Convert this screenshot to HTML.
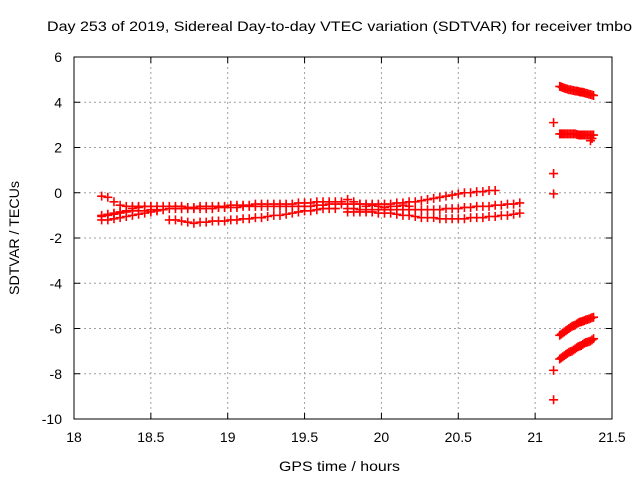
<!DOCTYPE html>
<html><head><meta charset="utf-8"><style>
body{margin:0;background:#fff}
svg text{font-family:"Liberation Sans",sans-serif;font-size:14px;fill:#000}
</style></head><body>
<svg id="c" width="640" height="480">
<text x="47" y="31" textLength="585" lengthAdjust="spacingAndGlyphs">Day 253 of 2019, Sidereal Day-to-day VTEC variation (SDTVAR) for receiver tmbo</text>
<text x="279" y="471" textLength="121" lengthAdjust="spacingAndGlyphs">GPS time / hours</text>
<text transform="translate(19,238) rotate(-90)" text-anchor="middle" textLength="114" lengthAdjust="spacingAndGlyphs">SDTVAR / TECUs</text>
<g id="grid"></g><g id="ticks"></g><g id="marks"></g>
<rect x="74" y="57" width="538" height="362" fill="none" stroke="#000" stroke-width="1"/>
</svg>
<script>
const xTicks=[18,18.5,19,19.5,20,20.5,21,21.5];
const xTickLabels=["18","18.5","19","19.5","20","20.5","21","21.5"];
const yTicks=[6,4,2,0,-2,-4,-6,-8,-10];
const yTickLabels=["6","4","2","0","-2","-4","-6","-8","-10"];
const A1=[-0.15,-0.2,-0.4,-0.55,-0.6,-0.6,-0.6,-0.6,-0.6,-0.6,-0.6,-0.6,-0.6,-0.6,-0.65,-0.65,-0.6,-0.6,-0.6,-0.6,-0.6,-0.55,-0.55,-0.55,-0.55,-0.5,-0.5,-0.5,-0.5,-0.5,-0.5,-0.5,-0.45,-0.45,-0.45,-0.4,-0.4,-0.4,-0.4,-0.4];
const B1=[-1.0,-0.95,-0.9,-0.85,-0.85,-0.8,-0.8,-0.8,-0.75,-0.75,-0.75,-0.7,-0.7,-0.7,-0.7,-0.7,-0.7,-0.7,-0.7,-0.65,-0.65,-0.65,-0.65,-0.6,-0.6,-0.6,-0.6,-0.6,-0.6,-0.6,-0.6,-0.6,-0.6,-0.6,-0.6,-0.55,-0.55,-0.5,-0.5,-0.5];
const C1=[-1.2,-1.2,-1.15,-1.1,-1.05,-1.0,-0.95,-0.9,-0.85,-0.8];
const D1=[-1.05,-1.0,-0.95,-0.9,-0.8,-0.7,-0.65,-0.6,-0.6];
const E1=[-1.2,-1.2,-1.25,-1.3,-1.35,-1.3,-1.3,-1.25,-1.25,-1.25,-1.2,-1.2,-1.15,-1.15,-1.1,-1.1,-1.05,-1.0,-1.0,-0.95,-0.9,-0.85,-0.8,-0.8,-0.75,-0.7,-0.7,-0.7];
const A2=[-0.5,-0.5,-0.5,-0.5,-0.5,-0.5,-0.5,-0.5,-0.45,-0.45,-0.4,-0.4,-0.35,-0.3,-0.25,-0.2,-0.15,-0.1,-0.05,0,0,0.05,0.05,0.1,0.1];
const B2=[-0.7,-0.7,-0.75,-0.75,-0.75,-0.75,-0.75,-0.75,-0.75,-0.75,-0.75,-0.75,-0.75,-0.75,-0.75,-0.75,-0.7,-0.7,-0.7,-0.65,-0.65,-0.6,-0.6,-0.6,-0.55,-0.55,-0.5,-0.5,-0.45];
const C2=[-0.85,-0.85,-0.85,-0.85,-0.85,-0.9,-0.9,-0.9,-0.95,-1.0,-1.0,-1.05,-1.1,-1.1,-1.1,-1.15,-1.15,-1.15,-1.15,-1.15,-1.1,-1.1,-1.1,-1.05,-1.05,-1.0,-1.0,-0.95,-0.9];
const D2=[-0.3,-0.4,-0.5,-0.6,-0.55,-0.6,-0.65,-0.6,-0.6,-0.55,-0.6];
const R1=[4.7,4.68,4.65,4.62,4.6,4.58,4.55,4.55,4.53,4.52,4.5,4.5,4.48,4.46,4.45,4.44,4.42,4.4,4.38,4.36,4.34,4.32,4.3];
const R2=[2.6,2.6,2.6,2.6,2.6,2.6,2.6,2.6,2.6,2.6,2.6,2.58,2.56,2.55,2.55,2.55,2.55,2.55,2.55,2.55,2.55,2.55,2.55];
const R3=[-6.3,-6.25,-6.2,-6.15,-6.1,-6.05,-6.0,-5.95,-5.9,-5.88,-5.85,-5.8,-5.75,-5.72,-5.7,-5.68,-5.65,-5.62,-5.6,-5.58,-5.55,-5.52,-5.5];
const R4=[-7.35,-7.3,-7.25,-7.2,-7.15,-7.1,-7.05,-7.02,-7.0,-6.95,-6.9,-6.85,-6.8,-6.78,-6.75,-6.7,-6.65,-6.62,-6.6,-6.58,-6.55,-6.5,-6.45];
const singleX=[21.12,21.12,21.12,21.12,21.12,21.36,21.37];
const singleY=[3.1,0.85,-0.05,-7.85,-9.15,2.3,2.4];
const series=[[A1,18.18,0.04],[B1,18.18,0.04],[C1,18.18,0.04],[D1,18.18,0.04],[E1,18.62,0.04],
 [A2,19.78,0.04],[B2,19.78,0.04],[C2,19.78,0.04],[D2,19.78,0.04],
 [R1,21.16,0.01],[R2,21.16,0.01],[R3,21.16,0.01],[R4,21.16,0.01]];
const NS="http://www.w3.org/2000/svg";
const X=v=>74+(v-18)/3.5*538, Y=v=>57+(6-v)/16*362;
function mk(t,a,p){const e=document.createElementNS(NS,t);for(const k in a)e.setAttribute(k,a[k]);p.appendChild(e);return e;}
const g=document.getElementById('grid'),tk=document.getElementById('ticks'),m=document.getElementById('marks');
xTicks.forEach((v,i)=>{const x=X(v);
 if(i>0&&i<xTicks.length-1){const l=mk('line',{x1:x,x2:x,y1:57,y2:419,stroke:'#a0a0a0','stroke-dasharray':'2,3'},g);
 
 }
 mk('line',{x1:x,x2:x,y1:419,y2:413,stroke:'#000'},tk);mk('line',{x1:x,x2:x,y1:57,y2:63,stroke:'#000'},tk);
 const t=mk('text',{x:x,y:442,'text-anchor':'middle'},tk);t.textContent=xTickLabels[i];
 
 });
yTicks.forEach((v,i)=>{const y=Y(v);
 if(i>0&&i<yTicks.length-1){const l=mk('line',{x1:74,x2:612,y1:y,y2:y,stroke:'#a0a0a0','stroke-dasharray':'2,3'},g);
 
 }
 mk('line',{x1:74,x2:80,y1:y,y2:y,stroke:'#000'},tk);mk('line',{x1:612,x2:606,y1:y,y2:y,stroke:'#000'},tk);
 const t=mk('text',{x:62,y:y+5,'text-anchor':'end'},tk);t.textContent=yTickLabels[i];
 
 });
function plus(xv,yv){const x=X(xv),y=Y(yv);
 const p=mk('path',{d:`M${x-4.5},${y}h9M${x},${y-4.5}v9`,stroke:'#f00','stroke-width':1.6,fill:'none'},m);
 
 }
series.forEach(s=>s[0].forEach((v,i)=>plus(s[1]+i*s[2],v)));
singleX.forEach((x,i)=>plus(x,singleY[i]));
</script>
</body></html>
